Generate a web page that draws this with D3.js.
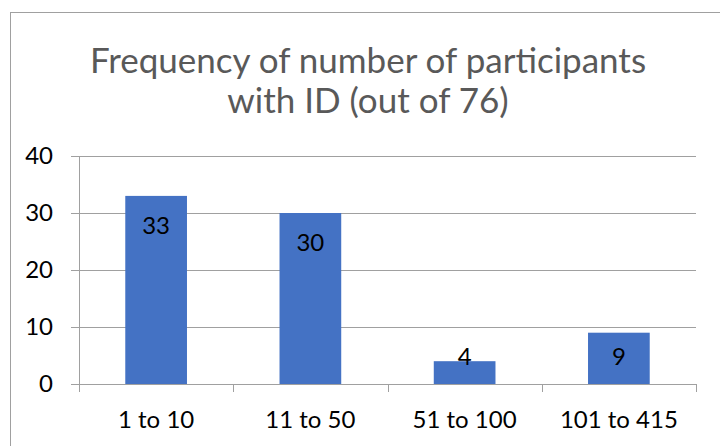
<!DOCTYPE html>
<html>
<head>
<meta charset="utf-8">
<script src="https://cdn.jsdelivr.net/npm/d3@7"></script>
<style>
  html, body { margin: 0; padding: 0; background: #fff; }
  svg { display: block; }
  text { font-family: Lato, "Noto Sans", sans-serif; }
</style>
</head>
<body>
<svg id="chart" width="720" height="446"></svg>
<script>
// Participant-count bands and how many of the 76 participants fall in each
const categories = ["1 to 10", "11 to 50", "51 to 100", "101 to 415"];
const counts = [33, 30, 4, 9];
const yTicks = [0, 10, 20, 30, 40];
const titleLines = ["Frequency of number of participants", "with ID (out of 76)"];

const W = 720, H = 446;
const margin = { left: 79, right: 24, top: 156, bottom: 62 };
const svg = d3.select("#chart");

// Chart frame (runs past the right and bottom edges)
svg.append("rect")
  .attr("x", 10.5).attr("y", 12.5)
  .attr("width", 760).attr("height", 480)
  .attr("fill", "#fff").attr("stroke", "#a0a0a0").attr("stroke-width", 1);

const x = d3.scaleBand()
  .domain(categories)
  .range([margin.left, W - margin.right])
  .paddingInner(0.6).paddingOuter(0.3);

const xBand = d3.scaleBand()
  .domain(categories)
  .range([margin.left, W - margin.right]);

const y = d3.scaleLinear()
  .domain([0, 40])
  .range([H - margin.bottom, margin.top]);

// Title
svg.append("text")
  .attr("x", 368).attr("y", 73)
  .attr("text-anchor", "middle")
  .attr("fill", "#595959")
  .style("font-size", "35px")
  .selectAll("tspan")
  .data(titleLines)
  .join("tspan")
  .attr("x", 368)
  .attr("dy", (d, i) => i === 0 ? 0 : 40)
  .text(d => d);

// Horizontal gridlines with short ticks on the left
const yAxis = d3.axisLeft(y)
  .tickValues(yTicks)
  .tickSize(-(W - margin.right - margin.left))
  .tickSizeOuter(0)
  .tickPadding(26);

const gy = svg.append("g")
  .attr("transform", `translate(${margin.left},0)`)
  .call(yAxis);
gy.select(".domain").attr("stroke", "#a0a0a0").attr("shape-rendering", "crispEdges");
gy.selectAll(".tick line")
  .attr("x1", -8)
  .attr("stroke", "#a0a0a0")
  .attr("shape-rendering", "crispEdges");
gy.selectAll(".tick text")
  .attr("fill", "#000")
  .style("font-size", "24px")
  .style("font-family", "Lato, 'Noto Sans', sans-serif");

// Bars
svg.append("g")
  .selectAll("rect")
  .data(categories)
  .join("rect")
  .attr("x", d => x(d))
  .attr("y", (d, i) => y(counts[i]))
  .attr("width", x.bandwidth())
  .attr("height", (d, i) => y(0) - y(counts[i]))
  .attr("fill", "#4472c4");

// Category axis with ticks at band boundaries
const gx = svg.append("g")
  .attr("transform", `translate(0,${y(0)})`);
gx.append("line")
  .attr("x1", margin.left).attr("x2", W - margin.right)
  .attr("y1", 0.5).attr("y2", 0.5)
  .attr("stroke", "#a0a0a0");
const bounds = categories.map(d => xBand(d)).concat([W - margin.right]);
gx.selectAll("line.tk")
  .data(bounds)
  .join("line")
  .attr("class", "tk")
  .attr("x1", d => Math.round(d) + 0.5).attr("x2", d => Math.round(d) + 0.5)
  .attr("y1", 0).attr("y2", 8)
  .attr("stroke", "#a0a0a0");
gx.selectAll("text")
  .data(categories)
  .join("text")
  .attr("x", d => xBand(d) + xBand.bandwidth() / 2)
  .attr("y", 44)
  .attr("text-anchor", "middle")
  .attr("fill", "#000")
  .style("font-size", "24px")
  .text(d => d);

// Value labels just inside the top of each bar
svg.append("g")
  .selectAll("text")
  .data(categories)
  .join("text")
  .attr("x", d => x(d) + x.bandwidth() / 2)
  .attr("y", (d, i) => Math.min(y(counts[i]) + 30, y(0) - 27))
  .attr("dy", "0.35em")
  .attr("text-anchor", "middle")
  .attr("fill", "#000")
  .style("font-size", "24px")
  .text((d, i) => counts[i]);
</script>
</body>
</html>
